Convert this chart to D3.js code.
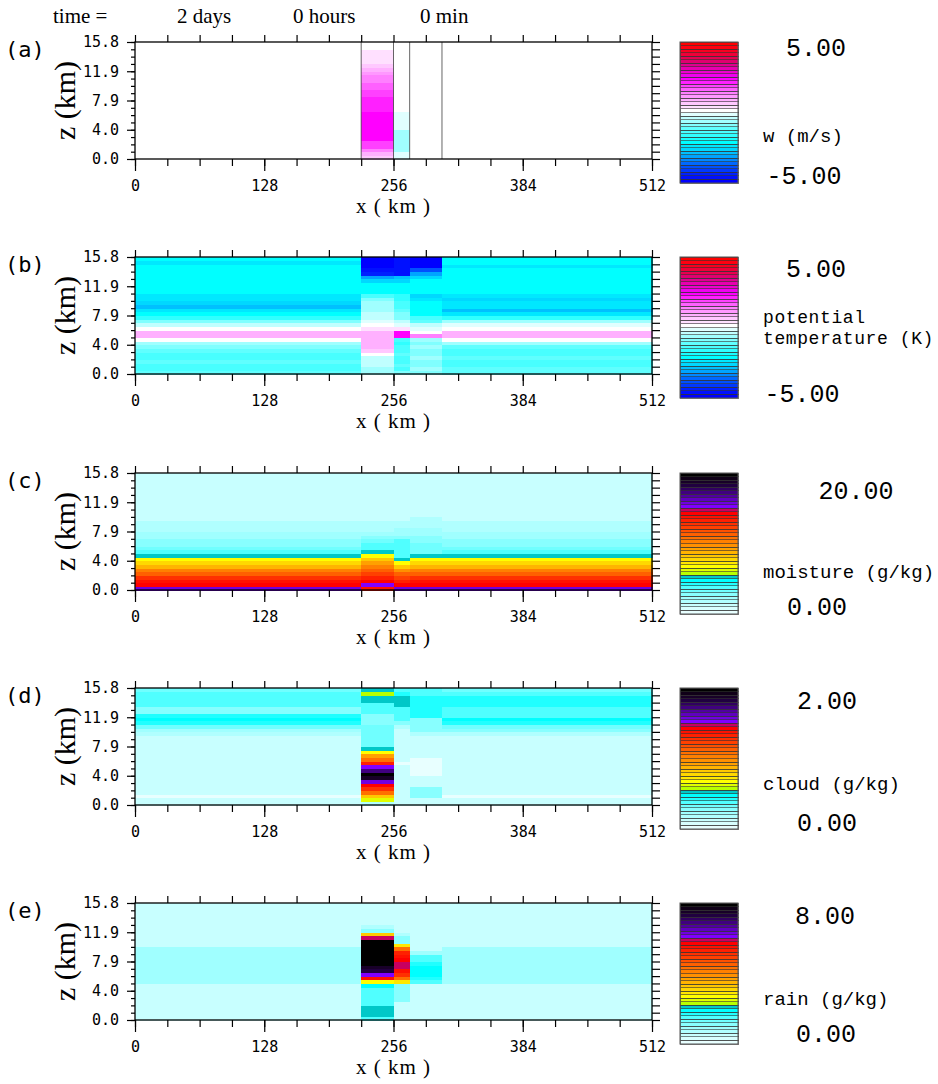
<!DOCTYPE html>
<html><head><meta charset="utf-8">
<script src="https://cdn.jsdelivr.net/npm/d3@7"></script>
<style>body{margin:0;background:#fff;} svg{display:block}</style>
</head><body>
<svg id="c" width="938" height="1084"></svg>
<script>
// ---------------- data ----------------
const xEdges = [0, 224, 256, 272, 304, 512];      // column boundaries (km)
const zMax = 15.8;                                 // model top (km)
const nLevels = 32;                                // vertical levels
const xTickValues = [0,32,64,96,128,160,192,224,256,288,320,352,384,416,448,480,512];
const xTickLabels = [0, 128, 256, 384, 512];
const zTickValues = [0, 3.95, 7.9, 11.85, 15.8];
const zTickLabels = ["0.0", "4.0", "7.9", "11.9", "15.8"];
const titleParts = ["time =", "2 days", "0 hours", "0 min"];
const panelLetters = ["(a)", "(b)", "(c)", "(d)", "(e)"];
const wContours = [224, 256, 272, 304];

// (a) vertical velocity w (m/s), levels bottom -> top
const w_c0 = [0,0,0,0,0,0,0,0,0,0,0,0,0,0,0,0,0,0,0,0,0,0,0,0,0,0,0,0,0,0,0,0];
const w_c1 = [0.6,0.9,1.4,1.9,1.9,2.4,2.4,2.4,2.4,2.4,2.4,2.4,2.4,2.1,2.1,2.1,2.1,1.9,1.9,1.6,1.6,1.4,1.4,1.1,0.9,0.6,0.4,0.4,0.4,0.4,0,0];
const w_c2 = [-0.1,-0.1,-0.6,-0.6,-0.6,-0.6,-0.6,-0.6,-0.1,-0.1,-0.1,-0.1,-0.1,0,0,0,0,0,0,0,0,0,0,0,0,0,0,0,0,0,0,0];
const w_c3 = [0,0,0,0,0,0,0,0,0,0,0,0,0,0,0,0,0,0,0,0,0,0,0,0,0,0,0,0,0,0,0,0];
const w_c4 = [0,0,0,0,0,0,0,0,0,0,0,0,0,0,0,0,0,0,0,0,0,0,0,0,0,0,0,0,0,0,0,0];

// (b) potential temperature anomaly (K)
const th_c0 = [-1.1,-1.4,-1.4,-1.1,-1.4,-1.4,-1.1,-0.9,-0.6,0.1,0.9,0.9,0.1,-0.4,-0.9,-1.6,-2.1,-2.4,-2.9,-2.6,-2.4,-2.4,-2.1,-2.1,-2.1,-2.1,-2.1,-2.1,-2.1,-2.1,-2.4,-2.1];
const th_c1 = [-0.6,-0.6,-0.4,-0.4,-0.4,0.1,0.6,0.9,0.9,0.9,0.9,0.9,0.4,0.1,-0.1,-0.4,-0.4,-0.6,-0.6,-0.6,-0.9,-1.4,-2.1,-2.1,-2.1,-2.6,-3.1,-4.4,-4.6,-4.9,-4.9,-4.9];
const th_c2 = [-0.9,-1.4,-1.1,-1.4,-1.4,-1.1,-1.4,-1.4,-1.6,-1.4,2.4,2.4,0.4,-0.1,-0.4,-0.9,-0.9,-1.1,-1.4,-1.4,-1.6,-1.6,-2.1,-2.1,-2.1,-2.6,-2.9,-4.6,-4.6,-4.6,-4.6,-4.6];
const th_c3 = [-0.9,-0.6,-0.9,-0.9,-0.6,-0.9,-0.9,-0.6,-0.9,-0.6,1.4,0.1,-0.1,-0.4,-1.1,-1.4,-2.1,-2.1,-2.1,-2.1,-2.4,-2.6,-2.1,-2.1,-2.1,-2.1,-2.6,-3.1,-3.9,-4.9,-4.9,-4.9];
const th_c4 = [-1.1,-1.1,-1.4,-1.4,-1.1,-1.4,-1.4,-1.1,-0.6,0.1,0.9,0.9,0.1,-0.1,-0.6,-1.6,-2.4,-2.9,-2.4,-2.4,-2.6,-2.4,-2.1,-2.1,-2.1,-2.1,-2.1,-2.1,-2.1,-2.4,-2.1,-2.1];

// (c) moisture (g/kg)
const q_c0 = [15.75,14.25,13.75,12.75,11.25,10.25,8.75,7.75,6.75,5.25,3.75,3.25,2.75,2.75,2.25,2.25,1.75,1.75,1.75,1.25,1.25,1.25,1.25,1.25,1.25,1.25,1.25,1.25,1.25,1.25,1.25,1.25];
const q_c1 = [13.75,15.25,14.25,13.25,12.25,11.25,10.25,9.25,8.25,6.75,5.25,3.75,3.75,3.25,2.75,2.25,1.75,1.75,1.75,1.25,1.25,1.25,1.25,1.25,1.25,1.25,1.25,1.25,1.25,1.25,1.25,1.25];
const q_c2 = [15.75,14.25,13.25,12.25,11.25,9.75,8.25,6.75,5.25,3.75,3.75,3.75,3.75,3.75,2.75,2.25,2.25,1.75,1.75,1.25,1.25,1.25,1.25,1.25,1.25,1.25,1.25,1.25,1.25,1.25,1.25,1.25];
const q_c3 = [15.75,14.25,13.75,12.75,11.25,10.25,8.75,7.75,6.75,5.25,3.25,3.25,3.25,2.75,2.75,2.25,2.25,1.75,1.75,1.75,1.25,1.25,1.25,1.25,1.25,1.25,1.25,1.25,1.25,1.25,1.25,1.25];
const q_c4 = [15.75,14.25,13.75,12.75,11.25,10.25,8.75,7.75,6.75,5.25,3.75,3.25,2.75,2.75,2.25,2.25,1.75,1.75,1.75,1.25,1.25,1.25,1.25,1.25,1.25,1.25,1.25,1.25,1.25,1.25,1.25,1.25];

// (d) cloud (g/kg)
const qc_c0 = [0.12,0.12,0.02,0.12,0.12,0.12,0.12,0.12,0.12,0.12,0.12,0.12,0.12,0.12,0.12,0.12,0.12,0.12,0.12,0.17,0.22,0.32,0.42,0.47,0.42,0.27,0.27,0.37,0.37,0.37,0.37,0.32];
const qc_c1 = [0.17,0.62,0.82,1.07,1.27,1.42,1.57,1.87,1.97,1.72,1.52,1.32,1.07,0.92,0.67,0.52,0.32,0.32,0.32,0.32,0.32,0.32,0.27,0.27,0.27,0.37,0.37,0.37,0.52,0.52,0.57,0.52];
const qc_c2 = [0.12,0.12,0.12,0.12,0.12,0.12,0.12,0.12,0.12,0.12,0.12,0.02,0.12,0.12,0.12,0.12,0.12,0.12,0.12,0.12,0.12,0.17,0.27,0.37,0.37,0.37,0.37,0.52,0.52,0.52,0.42,0.37];
const qc_c3 = [0.12,0.12,0.27,0.27,0.27,0.12,0.12,0.12,0.02,0.02,0.02,0.02,0.02,0.12,0.12,0.12,0.12,0.12,0.12,0.17,0.27,0.27,0.27,0.27,0.42,0.42,0.42,0.42,0.42,0.42,0.37,0.37];
const qc_c4 = [0.12,0.12,0.02,0.12,0.12,0.12,0.12,0.12,0.12,0.12,0.12,0.12,0.12,0.12,0.12,0.12,0.12,0.12,0.12,0.17,0.27,0.32,0.42,0.47,0.37,0.37,0.37,0.42,0.42,0.42,0.37,0.32];

// (e) rain (g/kg)
const qr_c0 = [0.5,0.5,0.5,0.5,0.5,0.5,0.5,0.5,0.5,0.5,0.9,0.9,0.9,0.9,0.9,0.9,0.9,0.9,0.9,0.9,0.5,0.5,0.5,0.5,0.5,0.5,0.5,0.5,0.5,0.5,0.5,0.5];
const qr_c1 = [1.5,2.1,2.1,2.1,1.5,1.5,1.5,1.5,1.5,1.9,2.7,5.5,6.1,7.3,7.5,7.9,7.9,7.9,7.9,7.9,7.9,7.9,5.9,3.3,1.1,0.7,0.5,0.5,0.5,0.5,0.5,0.5];
const qr_c2 = [0.5,0.5,0.5,0.5,0.5,1.1,1.1,1.1,1.1,1.1,2.9,4.3,5.1,5.5,5.9,5.9,5.7,5.5,5.3,4.3,2.9,1.1,1.1,0.7,0.5,0.5,0.5,0.5,0.5,0.5,0.5,0.5];
const qr_c3 = [0.5,0.5,0.5,0.5,0.5,0.5,0.5,0.5,0.5,0.5,1.5,1.7,1.9,1.9,1.9,1.7,1.5,1.5,0.9,0.5,0.5,0.5,0.5,0.5,0.5,0.5,0.5,0.5,0.5,0.5,0.5,0.5];
const qr_c4 = [0.5,0.5,0.5,0.5,0.5,0.5,0.5,0.5,0.5,0.5,0.9,0.9,0.9,0.9,0.9,0.9,0.9,0.9,0.9,0.9,0.5,0.5,0.5,0.5,0.5,0.5,0.5,0.5,0.5,0.5,0.5,0.5];

const fieldRanges = [[-5,5],[-5,5],[0,20],[0,2],[0,8]];
const rangeLabels = [["5.00","-5.00"],["5.00","-5.00"],["20.00","0.00"],["2.00","0.00"],["8.00","0.00"]];
const fieldNames = [["w (m/s)"],["potential","temperature (K)"],["moisture (g/kg)"],["cloud (g/kg)"],["rain (g/kg)"]];

// ---------------- styles ----------------
const divPal = ["#0000ff","#0010ff","#0020ff","#0038ff","#0050ff","#0068ff","#0088ff","#00a4ff","#00c0ff","#00d8ff",
  "#00e8ff","#00ffff","#18ffff","#30ffff","#48ffff","#60ffff","#80ffff","#a0ffff","#c0ffff","#e0ffff",
  "#ffffff","#ffe0ff","#ffc8ff","#ffb0ff","#ff98ff","#ff80ff","#ff60ff","#ff40ff","#ff20ff","#ff00ff",
  "#f000f0","#f000d0","#e800b0","#e00090","#e00070","#e80050","#f00038","#f80020","#ff0010","#ff0000"];
const seqPal = ["#e8ffff","#d8ffff","#c8ffff","#b0ffff","#a0ffff","#88ffff","#70ffff","#50ffff","#20ffff","#00ffff",
  "#00c8c8","#b8ff00","#e0ff00","#ffff00","#ffe800","#ffd800","#ffc800","#ffb400","#ffa000","#ff9000",
  "#ff8000","#ff7000","#ff6000","#ff5000","#ff4000","#ff3000","#ff2000","#ff1000","#ff0000","#c80060",
  "#8000ff","#7000e0","#6000c0","#5000a0","#400080","#300060","#200040","#180028","#100018","#000000"];
const palettes = [divPal, divPal, seqPal, seqPal, seqPal];

const panelTops = [42, 257, 473, 688, 903];
const layout = {plotLeft:135, plotRight:652, panelH:117, cbLeft:680, cbRight:738, cbH:141};
// colorbar text placement relative to panel top: [topValY, topValX, nameY, botValY, botValX]
const cbText = [[5,816,93,133,804],[11,816,60,136,802],[17,856,98,133,817],[12,827,95,134,827],[12,825,95,130,826]];

const columns = [
  [w_c0,w_c1,w_c2,w_c3,w_c4],
  [th_c0,th_c1,th_c2,th_c3,th_c4],
  [q_c0,q_c1,q_c2,q_c3,q_c4],
  [qc_c0,qc_c1,qc_c2,qc_c3,qc_c4],
  [qr_c0,qr_c1,qr_c2,qr_c3,qr_c4]
];

// ---------------- drawing ----------------
const svg = d3.select("#c");
const monoTick = "'DejaVu Sans Mono', monospace";
const monoLab = "'Liberation Mono', 'DejaVu Sans Mono', monospace";
const serif = "'Liberation Serif', 'DejaVu Serif', serif";

// title
const titleX = [53, 177, 293, 420];
svg.selectAll("text.title").data(titleParts).join("text")
  .attr("class","title").attr("x",(d,i)=>titleX[i]).attr("y",23)
  .attr("font-family",serif).attr("font-size",21).text(d=>d);

const x = d3.scaleLinear().domain([0,512]).range([layout.plotLeft, layout.plotRight]);
const levelIdx = d3.range(nLevels);
const zMinorTicks = d3.range(17).map(k => k*zMax/16);

panelTops.forEach((T, p) => {
  const y = d3.scaleLinear().domain([0, zMax]).range([T + layout.panelH, T]);
  const color = d3.scaleQuantize().domain(fieldRanges[p]).range(palettes[p]);
  const g = svg.append("g");

  // field cells
  const cells = [];
  columns[p].forEach((col, c) => {
    levelIdx.forEach(i => cells.push({c, i, v: col[i]}));
  });
  g.append("g").attr("shape-rendering","crispEdges").selectAll("rect").data(cells).join("rect")
    .attr("x", d => x(xEdges[d.c]))
    .attr("width", d => x(xEdges[d.c+1]) - x(xEdges[d.c]) + 0.5)
    .attr("y", d => y((d.i+1)*zMax/nLevels))
    .attr("height", d => y(d.i*zMax/nLevels) - y((d.i+1)*zMax/nLevels) + 0.5)
    .attr("fill", d => color(d.v));

  if (p === 0) {
    g.selectAll("line.ct").data(wContours).join("line").attr("class","ct")
      .attr("x1", d=>x(d)).attr("x2", d=>x(d)).attr("y1", y(0)).attr("y2", y(zMax))
      .attr("stroke","#555").attr("stroke-width",0.9);
  }

  // frame
  g.append("rect").attr("x", x(0)).attr("y", y(zMax)).attr("width", x(512)-x(0)).attr("height", y(0)-y(zMax))
    .attr("fill","none").attr("stroke","#000").attr("stroke-width",1.3);

  const styleAxis = sel => { sel.select(".domain").remove(); sel.selectAll("line").attr("stroke","#000").attr("stroke-width",1.2); };

  g.append("g").attr("transform",`translate(0,${y(zMax)})`)
    .call(d3.axisTop(x).tickValues(xTickValues).tickSize(7).tickFormat(""))
    .call(styleAxis);
  g.append("g").attr("transform",`translate(0,${y(0)})`)
    .call(d3.axisBottom(x).tickValues(xTickValues).tickSize(7).tickFormat(""))
    .call(styleAxis);
  g.append("g").attr("transform",`translate(0,${y(0)})`)
    .call(d3.axisBottom(x).tickValues(xTickLabels).tickSize(12).tickPadding(9).tickFormat(d3.format("d")))
    .call(styleAxis)
    .call(s => s.selectAll("text").attr("font-family",monoTick).attr("font-size",15).attr("fill","#000"));
  g.append("g").attr("transform",`translate(${x(0)},0)`)
    .call(d3.axisLeft(y).tickValues(zMinorTicks).tickSize(4).tickFormat(""))
    .call(styleAxis);
  g.append("g").attr("transform",`translate(${x(0)},0)`)
    .call(d3.axisLeft(y).tickValues(zTickValues).tickSize(8).tickPadding(8).tickFormat((d,i)=>zTickLabels[i]))
    .call(styleAxis)
    .call(s => s.selectAll("text").attr("font-family",monoTick).attr("font-size",15).attr("fill","#000"));
  g.append("g").attr("transform",`translate(${x(512)},0)`)
    .call(d3.axisRight(y).tickValues(zMinorTicks).tickSize(8).tickFormat(""))
    .call(styleAxis);

  // axis titles
  g.append("text").attr("x", x(256)).attr("y", y(0)+54).attr("text-anchor","middle")
    .attr("font-family",serif).attr("font-size",21).attr("letter-spacing",1).text("x ( km )");
  g.append("text").attr("transform",`translate(75,${T+layout.panelH/2}) rotate(-90)`).attr("text-anchor","middle")
    .attr("font-family",serif).attr("font-size",30).text("z (km)");
  g.append("text").attr("x",5).attr("y",T+15).attr("font-family",monoTick).attr("font-size",22).text(panelLetters[p]);

  // colorbar
  const cb = d3.scaleLinear().domain([0, palettes[p].length]).range([T + layout.cbH, T]);
  g.append("g").attr("shape-rendering","crispEdges").selectAll("rect").data(palettes[p]).join("rect")
    .attr("x", layout.cbLeft).attr("width", layout.cbRight - layout.cbLeft)
    .attr("y", (d,k)=>cb(k+1)).attr("height",(d,k)=>cb(k)-cb(k+1))
    .attr("fill", d=>d).attr("stroke","#333").attr("stroke-width",0.6);
  g.append("rect").attr("x", layout.cbLeft).attr("y", T).attr("width", layout.cbRight-layout.cbLeft).attr("height", layout.cbH)
    .attr("fill","none").attr("stroke","#555").attr("stroke-width",1);

  const t = cbText[p];
  g.append("text").attr("x",t[1]).attr("y",T+t[0]).attr("dy","0.36em").attr("text-anchor","middle")
    .attr("font-family",monoLab).attr("font-size",25).text(rangeLabels[p][0]);
  g.append("text").attr("x",t[4]).attr("y",T+t[3]).attr("dy","0.36em").attr("text-anchor","middle")
    .attr("font-family",monoLab).attr("font-size",25).text(rangeLabels[p][1]);
  const multi = fieldNames[p].length > 1;
  g.selectAll("text.nm").data(fieldNames[p]).join("text").attr("class","nm")
    .attr("x",763).attr("y",(d,k)=>T+t[2]+k*21).attr("dy","0.36em")
    .attr("font-family",monoLab).attr("font-size", multi ? 18 : 19)
    .attr("letter-spacing", multi ? 0.6 : 0).text(d=>d);
});
</script>
</body></html>
